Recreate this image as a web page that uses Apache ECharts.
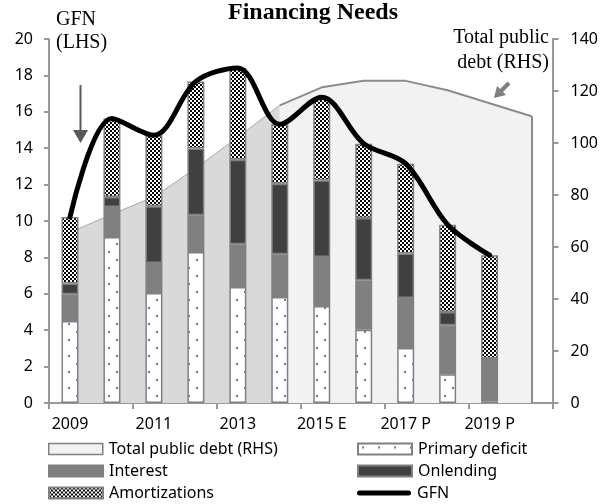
<!DOCTYPE html>
<html>
<head>
<meta charset="utf-8">
<script src="https://cdn.jsdelivr.net/npm/echarts@6/dist/echarts.min.js"></script>
<style>html,body{margin:0;padding:0;background:#fff;}#c{width:601px;height:504px;}</style>
</head>
<body>
<div id="c"></div>
<script>
const categories = ['2009','2010','2011','2012','2013','2014','2015 E','2016 P','2017 P','2018 P','2019 P','2020 P'];
const primaryDeficit = [4.5, 9.12, 6.04, 8.3, 6.37, 5.82, 5.33, 4.03, 3.02, 1.58, 0.09, '-'];
const interest = [1.47, 1.65, 1.65, 2.01, 2.35, 2.35, 2.69, 2.71, 2.75, 2.69, 2.35, '-'];
const onlending = [0.59, 0.55, 3.12, 3.67, 4.65, 3.88, 4.22, 3.43, 2.44, 0.73, 0.0, '-'];
const amortizations = [3.66, 4.31, 3.9, 3.69, 5.04, 3.26, 4.56, 4.08, 4.94, 4.8, 5.68, '-'];
const gfn = [10.22, 15.63, 14.71, 17.67, 18.41, 15.31, 16.8, 14.25, 13.15, 9.8, 8.12, '-'];
const debtHistorical = [65.6, 72.6, 79.3, 90.3, 102.2, 114.5, '-', '-', '-', '-', '-', '-'];
const debtProjected = ['-', '-', '-', '-', '-', 114.5, 121.4, 123.9, 123.9, 120.3, 115.3, 110.3];
const leftTicks = [0, 20, 2];
const rightTicks = [0, 140, 20];

function makeChecker() {
  const c = document.createElement('canvas'); c.width = 4; c.height = 4;
  const g = c.getContext('2d');
  g.fillStyle = '#fff'; g.fillRect(0,0,4,4);
  g.fillStyle = '#000'; g.fillRect(0,0,2,2); g.fillRect(2,2,2,2);
  return c;
}
function makeDots() {
  const c = document.createElement('canvas'); c.width = 16; c.height = 16;
  const g = c.getContext('2d');
  g.fillStyle = '#fff'; g.fillRect(0,0,16,16);
  g.fillStyle = '#4f81bd'; g.fillRect(4,3,2,2); g.fillRect(12,11,2,2);
  return c;
}
const checker = {image: makeChecker(), repeat: 'repeat'};
const dots = {image: makeDots(), repeat: 'repeat'};
const border = '#808080';
const font = 'Noto Sans';

const chart = echarts.init(document.getElementById('c'), null, {renderer: 'canvas'});
const barCommon = {
  type: 'bar', stack: 'gfn', barWidth: 17, z: 3,
  emphasis: {disabled: true}
};
function leg(item, left, top) {
  return {orient: 'horizontal', left: left, top: top, padding: 0, itemWidth: 54, itemHeight: 11, itemGap: 0,
    textStyle: {fontFamily: font, fontSize: 16, color: '#000', padding: [0, 0, 0, 1]},
    selectedMode: false, data: [item]};
}
chart.setOption({
  animation: false,
  grid: {left: 49, right: 47, top: 39, bottom: 101, containLabel: false},
  xAxis: {
    type: 'category', data: categories, boundaryGap: true,
    axisLine: {lineStyle: {color: '#999', width: 2}},
    axisTick: {show: true, interval: 1, length: 6, lineStyle: {color: '#999', width: 2}},
    axisLabel: {interval: 1, color: '#000', fontFamily: font, fontSize: 16, margin: 13}
  },
  yAxis: [
    {type: 'value', min: leftTicks[0], max: leftTicks[1], interval: leftTicks[2], position: 'left',
     splitLine: {show: false},
     axisLine: {show: true, lineStyle: {color: '#999', width: 2}},
     axisTick: {show: true, inside: false, length: 5, lineStyle: {color: '#999', width: 2}},
     axisLabel: {color: '#000', fontFamily: font, fontSize: 16, margin: 16}},
    {type: 'value', min: rightTicks[0], max: rightTicks[1], interval: rightTicks[2], position: 'right',
     splitLine: {show: false},
     axisLine: {show: true, lineStyle: {color: '#999', width: 2}},
     axisTick: {show: true, length: 6, lineStyle: {color: '#999', width: 2}},
     axisLabel: {color: '#000', fontFamily: font, fontSize: 16, margin: 18}}
  ],
  legend: [
    leg({name: 'Total public debt (RHS)', icon: 'rect', itemStyle: {color: '#f2f2f2', borderColor: border, borderWidth: 1.5}}, 48, 441),
    leg({name: 'Interest', icon: 'rect'}, 48, 463),
    leg({name: 'Amortizations', icon: 'rect'}, 48, 485),
    leg({name: 'Primary deficit', icon: 'rect'}, 357, 441),
    leg({name: 'Onlending', icon: 'rect'}, 357, 463),
    leg({name: 'GFN', icon: 'path://M2.5,0 L51.5,0 A2.5,2.5 0 0 1 51.5,5 L2.5,5 A2.5,2.5 0 0 1 2.5,0 Z', itemStyle: {color: '#000'}}, 357, 485)
  ],
  series: [
    {name: 'Total public debt (historical)', type: 'line', yAxisIndex: 1, data: debtHistorical,
     symbol: 'none', z: 1, lineStyle: {color: '#a6a6a6', width: 1}, areaStyle: {color: '#d9d9d9', opacity: 1},
     emphasis: {disabled: true}},
    {name: 'Total public debt (RHS)', type: 'line', yAxisIndex: 1, data: debtProjected,
     symbol: 'none', z: 1, lineStyle: {color: '#8c8c8c', width: 2}, areaStyle: {color: '#f2f2f2', opacity: 1},
     itemStyle: {color: '#f2f2f2', borderColor: border},
     emphasis: {disabled: true},
     markLine: {silent: true, symbol: 'none', label: {show: false},
       lineStyle: {color: '#8c8c8c', width: 2, type: 'solid'},
       data: [[{coord: [categories[11], 0]}, {coord: [categories[11], debtProjected[11]]}]]}},
    Object.assign({name: 'Primary deficit', data: primaryDeficit,
     itemStyle: {color: dots, borderColor: border, borderWidth: 1.5}}, barCommon),
    Object.assign({name: 'Interest', data: interest,
     itemStyle: {color: '#808080', borderColor: border, borderWidth: 1.5}}, barCommon),
    Object.assign({name: 'Onlending', data: onlending,
     itemStyle: {color: '#404040', borderColor: border, borderWidth: 1.5}}, barCommon),
    Object.assign({name: 'Amortizations', data: amortizations,
     itemStyle: {color: checker, borderColor: border, borderWidth: 1.5}}, barCommon),
    {name: 'GFN', type: 'line', data: gfn, smooth: 0.33, symbol: 'none', z: 5,
     lineStyle: {color: '#000', width: 5, cap: 'round'}, itemStyle: {color: '#000'},
     emphasis: {disabled: true}}
  ],
  graphic: [
    {type: 'text', z: 10, style: {text: 'Financing Needs', x: 313, y: 13, textAlign: 'center', textVerticalAlign: 'middle',
      font: 'bold 24px "Liberation Serif"', fill: '#000'}},
    {type: 'text', z: 10, style: {text: 'GFN\n(LHS)', x: 56, y: 8, textAlign: 'left', textVerticalAlign: 'top',
      font: '20px "Liberation Serif"', lineHeight: 23, fill: '#000'}},
    {type: 'text', z: 10, style: {text: 'Total public\ndebt (RHS)', x: 549, y: 25, textAlign: 'right', textVerticalAlign: 'top',
      font: '20px "Liberation Serif"', lineHeight: 25, fill: '#000'}},
    {type: 'line', z: 10, shape: {x1: 80.5, y1: 85, x2: 80.5, y2: 131}, style: {stroke: '#595959', lineWidth: 2}},
    {type: 'polygon', z: 10, shape: {points: [[73, 130], [88, 130], [80.5, 143]]}, style: {fill: '#595959'}},
    {type: 'line', z: 10, shape: {x1: 509, y1: 83, x2: 501, y2: 91}, style: {stroke: '#7f7f7f', lineWidth: 4}},
    {type: 'polygon', z: 10, shape: {points: [[506, 95], [497, 86], [494, 98]]}, style: {fill: '#7f7f7f'}}
  ]
});
</script>
</body>
</html>
